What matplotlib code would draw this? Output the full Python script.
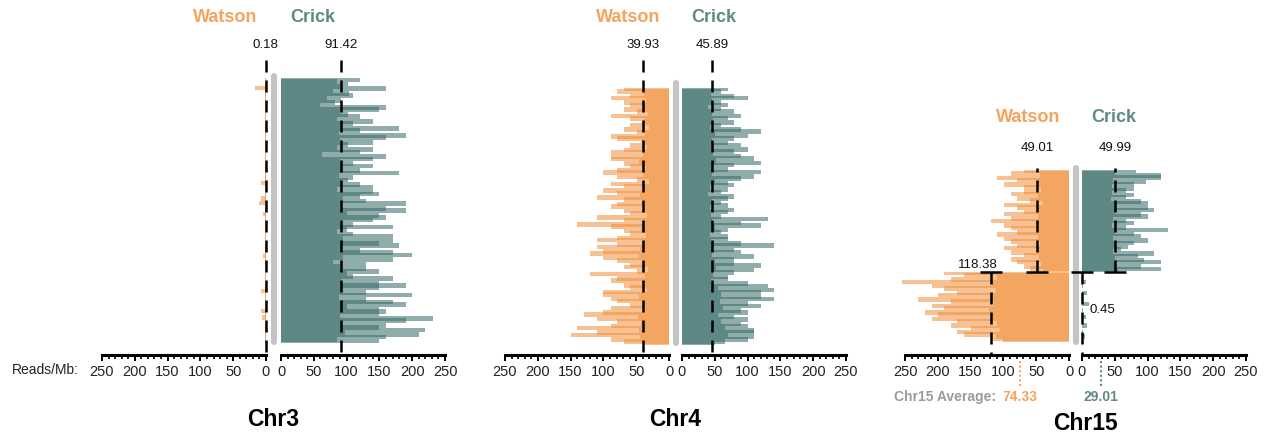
import matplotlib
matplotlib.use("Agg")
import matplotlib.pyplot as plt
from matplotlib.lines import Line2D
from matplotlib.patches import Rectangle
from matplotlib.ticker import MultipleLocator

plt.rcParams["font.family"] = ["Liberation Sans", "DejaVu Sans"]

# Reads/Mb per genomic bin, listed from the top of the chromosome to the bottom
chr3_watson = [
    1, 1, 1, 1, 17, 1, 1, 1, 1, 1, 1, 1, 1, 1, 1, 1, 1, 1, 1, 1,
    1, 1, 1, 1, 1, 1, 1, 1, 1, 1, 1, 1, 1, 1, 1, 1, 1, 1, 1, 1,
    1, 1, 1, 1, 1, 1, 1, 8, 1, 1, 1, 1, 1, 1, 8, 1, 10, 1, 1, 1,
    1, 5, 1, 1, 1, 1, 1, 1, 1, 1, 1, 1, 1, 1, 1, 1, 1, 1, 1, 1,
    5, 1, 1, 1, 1, 1, 1, 1, 1, 1, 1, 1, 1, 1, 1, 1, 8, 1, 1, 1,
    1, 1, 1, 1, 1, 8, 1, 1, 6, 1, 1, 1, 1, 1, 1, 1, 1, 1, 1, 1,
]
chr3_crick = [
    120, 85, 102, 95, 160, 80, 104, 109, 70, 92, 82, 60, 160, 150, 90, 102,
    120, 85, 140, 109, 95, 180, 120, 88, 190, 160, 90, 140, 102, 85, 140, 120,
    62, 160, 140, 90, 109, 140, 95, 120, 180, 88, 109, 102, 92, 120, 140, 85,
    140, 150, 120, 95, 130, 190, 90, 160, 190, 100, 150, 160, 140, 90, 109, 170,
    100, 85, 109, 170, 95, 170, 150, 180, 92, 120, 170, 200, 95, 170, 80, 130,
    90, 130, 150, 100, 109, 170, 92, 150, 190, 150, 95, 130, 200, 88, 130, 170,
    190, 100, 150, 160, 150, 90, 231, 190, 95, 160, 150, 220, 98, 210, 160, 85,
    150,
]
chr4_watson = [
    69, 79, 38, 59, 89, 35, 69, 59, 40, 69, 49, 32, 89, 59, 38, 39, 59, 30,
    69, 49, 36, 89, 79, 42, 39, 59, 33, 69, 89, 40, 89, 89, 45, 69, 59, 35,
    79, 100, 40, 79, 49, 30, 89, 69, 38, 100, 79, 44, 110, 69, 36, 79, 89, 40,
    69, 59, 34, 110, 69, 38, 140, 89, 42, 69, 59, 35, 79, 110, 40, 79, 110, 44,
    100, 120, 46, 100, 79, 38, 59, 69, 32, 49, 120, 36, 79, 89, 40, 69, 59, 33,
    100, 100, 45, 89, 79, 40, 59, 89, 36, 100, 130, 48, 110, 79, 42, 89, 140, 45,
    110, 150, 44, 89, 69, 38,
]
chr4_crick = [
    70, 60, 44, 80, 100, 46, 60, 70, 40, 60, 80, 45, 90, 70, 48, 80, 60, 42,
    90, 121, 50, 100, 80, 46, 70, 90, 44, 100, 80, 48, 90, 110, 52, 121, 80, 47,
    70, 121, 45, 110, 90, 50, 70, 80, 43, 70, 60, 40, 80, 70, 45, 60, 70, 42,
    80, 70, 44, 60, 131, 46, 90, 121, 50, 70, 60, 42, 70, 70, 44, 90, 141, 48,
    80, 90, 46, 110, 80, 50, 80, 121, 52, 110, 80, 48, 70, 70, 44, 100, 131, 55,
    141, 121, 60, 121, 141, 58, 100, 121, 62, 90, 100, 55, 80, 100, 60, 90, 100, 65,
    110, 110, 70, 110, 100, 66, 50,
]
chr15_watson_upper = [
    69, 89, 44, 109, 79, 46, 99, 69, 42, 69, 89, 48, 79, 59, 40, 99, 79, 45,
    69, 99, 47, 89, 119, 50, 99, 89, 46, 79, 109, 48, 99, 89, 44, 79, 99, 47,
    89, 69, 45, 89, 79, 43, 69, 59, 40,
]
chr15_watson_lower = [
    190, 160, 110, 180, 255, 118, 209, 190, 112, 170, 200, 120, 230, 180, 115,
    209, 190, 122, 220, 200, 118, 209, 170, 110, 180, 150, 105, 170, 160, 112,
    119, 100,
]
chr15_crick_upper = [
    83, 50, 121, 121, 48, 98, 80, 45, 80, 67, 46, 80, 67, 44, 90, 100, 52,
    100, 110, 50, 90, 100, 48, 67, 80, 45, 67, 131, 50, 80, 90, 47, 100, 80,
    52, 70, 60, 48, 110, 85, 50, 95, 120, 52, 90, 121, 55,
]
chr15_crick_lower = [
    0, 1, 0, 0, 6, 0, 1, 0, 0, 8, 0, 0, 1, 0, 10, 0,
    0, 1, 0, 0, 6, 0, 1, 0, 8, 0, 0, 1, 0, 5, 0, 1,
]

chr3_means = (0.18, 91.42)
chr4_means = (39.93, 45.89)
chr15_upper_means = (49.01, 49.99)
chr15_lower_means = (118.38, 0.45)
chr15_average = (74.33, 29.01)

WATSON_BAR = "#F18E3A"
CRICK_BAR = "#356B66"
WATSON_TXT = "#F4A45E"
CRICK_TXT = "#5F8985"

# layout in pixels of the 1266 x 433 canvas
FIG_W, FIG_H = 1266, 433
AXIS_Y = 355
TOP_Y = 30
SPAN = 164
PX_PER_READ = SPAN / 250


def side_axes(fig, x_left, flip):
    ax = fig.add_axes([x_left / FIG_W, 1 - AXIS_Y / FIG_H,
                       SPAN / FIG_W, (AXIS_Y - TOP_Y) / FIG_H])
    ax.patch.set_visible(False)
    ax.set_ylim(AXIS_Y, TOP_Y)
    ax.set_xlim((250, 0) if flip else (0, 250))
    for s in ("top", "left", "right"):
        ax.spines[s].set_visible(False)
    ax.spines["bottom"].set_linewidth(2.2)
    ax.set_yticks([])
    ax.xaxis.set_major_locator(MultipleLocator(50))
    ax.xaxis.set_minor_locator(MultipleLocator(10))
    ax.tick_params(axis="x", which="major", length=4.5, width=1.4, pad=2.5,
                   labelsize=10.5, labelcolor="#222222")
    ax.tick_params(axis="x", which="minor", length=3.0, width=1.2)
    return ax


def draw_rows(ax, values, top, bottom, color):
    # translucent bars overlap their neighbour, so the body of the
    # histogram stacks up dark and the isolated peaks stay pale
    step = (bottom - top) / len(values)
    ys = [top + (i + 0.5) * step for i in range(len(values))]
    bars = ax.barh(ys, values, height=2 * step, color=color, alpha=0.55,
                   linewidth=0, zorder=2)
    clip = Rectangle((0, top), 300, bottom - top, transform=ax.transData)
    for b in bars:
        b.set_clip_path(clip)


def mean_line(ax, value, y_start, y_end):
    ax.plot([value, value], [y_start, y_end], color="black", lw=1.8,
            linestyle=(0, (4.8, 3.2)), dash_capstyle="butt", zorder=5,
            clip_on=False)


def cap(ax, value, y):
    half = 11 / PX_PER_READ
    ax.plot([value - half, value + half], [y, y], color="black", lw=1.8,
            solid_capstyle="butt", zorder=5, clip_on=False)


def separator(fig, x, y0, y1):
    fig.add_artist(Line2D([x / FIG_W, x / FIG_W], [1 - y0 / FIG_H, 1 - y1 / FIG_H],
                          color="#C4C4C4", lw=4.4, solid_capstyle="round",
                          zorder=-1))


def headings(fig, w0, c0, y):
    fig.text((w0 - 41) / FIG_W, 1 - y / FIG_H, "Watson", color=WATSON_TXT,
             fontsize=13, fontweight="bold", ha="center", va="center")
    fig.text((c0 + 32) / FIG_W, 1 - y / FIG_H, "Crick", color=CRICK_TXT,
             fontsize=13, fontweight="bold", ha="center", va="center")


def chrom_label(fig, x, y, name):
    fig.text(x / FIG_W, 1 - y / FIG_H, name, fontsize=16.5, fontweight="bold",
             ha="center", va="center")


fig = plt.figure(figsize=(FIG_W / 100, FIG_H / 100), dpi=100)

# ---- Chr3 and Chr4: one segment each ----
simple_panels = [
    ("Chr3", 266, 281, 78, 343, 73, 345, chr3_watson, chr3_crick, chr3_means),
    ("Chr4", 669, 682, 88, 345, 80, 346, chr4_watson, chr4_crick, chr4_means),
]
for name, w0, c0, top, bottom, sep_top, sep_bot, wv, cv, means in simple_panels:
    axw = side_axes(fig, w0 - SPAN, flip=True)
    axc = side_axes(fig, c0, flip=False)
    draw_rows(axw, wv, top, bottom, WATSON_BAR)
    draw_rows(axc, cv, top, bottom, CRICK_BAR)
    for ax, m in ((axw, means[0]), (axc, means[1])):
        mean_line(ax, m, 60, AXIS_Y)
        ax.text(m, 45, f"{m:.2f}", fontsize=9.5, ha="center", va="center",
                color="#111111")
    separator(fig, (w0 + c0) / 2, sep_top + 3, sep_bot - 3)
    headings(fig, w0, c0, 18)
    chrom_label(fig, (w0 + c0) / 2, 420, name)

fig.text(79 / FIG_W, 1 - 370 / FIG_H, "Reads/Mb:", fontsize=10, ha="right",
         va="center", color="#222222")

# ---- Chr15: two segments with different strand bias ----
w0, c0 = 1069, 1082
top, split, bottom = 170, 272, 342
axw = side_axes(fig, w0 - SPAN, flip=True)
axc = side_axes(fig, c0, flip=False)
draw_rows(axw, chr15_watson_upper, top, split, WATSON_BAR)
draw_rows(axw, chr15_watson_lower, split, bottom, WATSON_BAR)
draw_rows(axc, chr15_crick_upper, top, split, CRICK_BAR)
draw_rows(axc, chr15_crick_lower, split, bottom, CRICK_BAR)

for ax, m in ((axw, chr15_upper_means[0]), (axc, chr15_upper_means[1])):
    mean_line(ax, m, split, top - 2)
    cap(ax, m, split)
    ax.text(m, 148, f"{m:.2f}", fontsize=9.5, ha="center", va="center",
            color="#111111")
for ax, m in ((axw, chr15_lower_means[0]), (axc, chr15_lower_means[1])):
    mean_line(ax, m, split, AXIS_Y)
    cap(ax, m, split)
m = chr15_lower_means[0]
axw.text(m + 20, 265, f"{m:.2f}", fontsize=9.5, ha="center", va="center",
         color="#111111", zorder=6)
m = chr15_lower_means[1]
axc.text(m + 11.5, 310, f"{m:.2f}", fontsize=9.5, ha="left", va="center",
         color="#111111", zorder=6)

separator(fig, (w0 + c0) / 2, 168, 342)
headings(fig, w0, c0, 118)

# genome-wide averages for this chromosome, hung below the axis
for ax, m, col in ((axw, chr15_average[0], WATSON_TXT),
                   (axc, chr15_average[1], CRICK_TXT)):
    ax.plot([m, m], [361, 388], color=col, lw=1.5, linestyle=(0, (1, 1.2)),
            clip_on=False)
    ax.text(m, 397, f"{m:.2f}", color=col, fontsize=10, fontweight="bold",
            ha="center", va="center", clip_on=False)
fig.text(996 / FIG_W, 1 - 397 / FIG_H, "Chr15 Average:", color="#9A9A9A",
         fontsize=10, fontweight="bold", ha="right", va="center")
chrom_label(fig, 1085, 424, "Chr15")

fig.savefig("out.png", dpi=100)
